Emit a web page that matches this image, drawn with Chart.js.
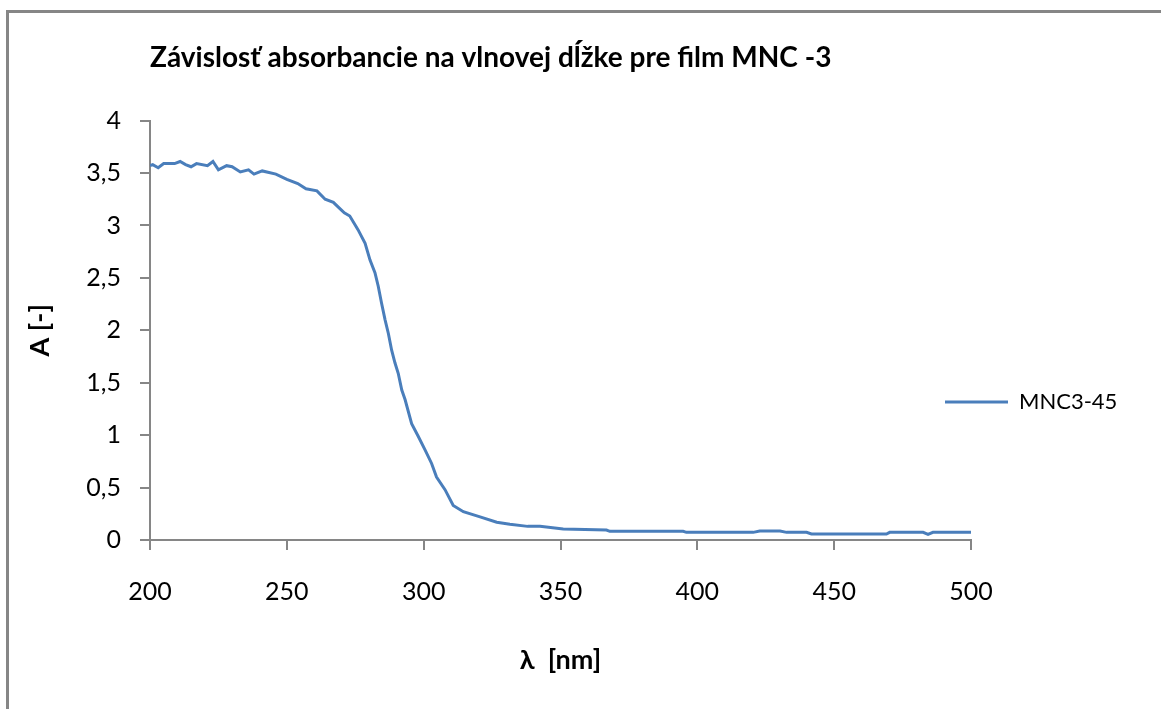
<!DOCTYPE html>
<html>
<head>
<meta charset="utf-8">
<script src="https://cdn.jsdelivr.net/npm/chart.js@4.4.1/dist/chart.umd.min.js"></script>
<style>
  html, body { margin: 0; padding: 0; background: #fff; overflow: hidden; }
  #frame { position: absolute; left: 6px; top: 10px; width: 1300px; height: 900px;
           border-left: 3px solid #868686; border-top: 3px solid #868686; }
  #absChart { position: absolute; left: 0; top: 0; }
</style>
</head>
<body>
<div id="frame"></div>
<canvas id="absChart" width="1161" height="709"></canvas>
<script>
// ---------- Data ----------
const chartTitle = 'Závislosť absorbancie na vlnovej dĺžke pre film MNC -3';
const seriesName = 'MNC3-45';
const xTitle = 'λ  [nm]';
const yTitle = 'A [-]';

const wavelengths = [
  200, 201, 203, 205, 209, 211, 213, 215, 217, 221, 223, 225, 228, 230, 233, 236, 238, 241,
  246, 250, 254, 257, 261, 264, 267, 269, 271, 273, 276, 278.6, 280.4, 282.2, 283.4, 284.6,
  285.9, 287.1, 288.3, 289.5, 290.7, 292, 293.2, 295.6, 298, 300.5, 302.9, 304.7, 307.8,
  310.8, 314.5, 320.6, 326.7, 331.5, 338, 342.5, 351, 366.8, 368, 394.8, 396, 420.4, 422.8,
  430.2, 432.6, 439.9, 441.7, 469.1, 470.3, 482.5, 484.3, 486.1, 500
];
const absorbance = [
  3.57, 3.58, 3.55, 3.59, 3.59, 3.61, 3.58, 3.56, 3.59, 3.57, 3.61, 3.53, 3.57, 3.56, 3.51, 3.53, 3.49, 3.52,
  3.49, 3.44, 3.40, 3.35, 3.33, 3.25, 3.22, 3.17, 3.12, 3.09, 2.96, 2.83, 2.67, 2.55, 2.42, 2.26,
  2.10, 1.97, 1.81, 1.69, 1.59, 1.43, 1.34, 1.11, 0.99, 0.86, 0.73, 0.60, 0.48,
  0.33, 0.27, 0.22, 0.17, 0.15, 0.13, 0.13, 0.105, 0.095, 0.083, 0.083, 0.073, 0.073, 0.086,
  0.086, 0.073, 0.073, 0.057, 0.057, 0.073, 0.073, 0.054, 0.073, 0.073
];

const xTicks = [200, 250, 300, 350, 400, 450, 500];
const yTicks = [0, 0.5, 1, 1.5, 2, 2.5, 3, 3.5, 4];

// ---------- Chart ----------
const FONT = 'Lato, "Open Sans", sans-serif';
const AXIS_GRAY = '#868686';

// Excel puts the legend partly over the plot's right edge, so move the box after layout
const legendPlace = {
  id: 'legendPlace',
  afterLayout(chart) {
    const lg = chart.legend;
    if (!lg) return;
    const w = lg.width;
    lg.left = 935; lg.right = 935 + w;
    lg.top = 305; lg.bottom = 499; lg.height = 194;
  }
};

const ctx = document.getElementById('absChart').getContext('2d');
const chart = new Chart(ctx, {
  type: 'line',
  data: {
    datasets: [{
      label: seriesName,
      data: wavelengths.map((w, i) => ({ x: w, y: absorbance[i] })),
      borderColor: '#4a7ebb',
      backgroundColor: '#4a7ebb',
      borderWidth: 3,
      pointRadius: 0,
      tension: 0,
      fill: false
    }]
  },
  options: {
    responsive: false,
    animation: false,
    layout: { padding: { left: 0, top: 0, right: 190, bottom: 0 } },
    scales: {
      x: {
        type: 'linear',
        min: 200,
        max: 500,
        afterBuildTicks: (s) => { s.ticks = xTicks.map(v => ({ value: v })); },
        afterFit: (s) => { s.height = 169; },
        grid: { drawOnChartArea: false, drawTicks: true, tickLength: 10, color: AXIS_GRAY, lineWidth: 2 },
        border: { color: AXIS_GRAY, width: 2 },
        ticks: { color: '#000', padding: 27, maxRotation: 0, font: { family: FONT, size: 25 } },
        title: {
          display: true, text: xTitle, color: '#000',
          font: { family: FONT, size: 27, weight: 'bold' },
          padding: { top: 0, bottom: 33 }
        }
      },
      y: {
        min: 0,
        max: 4,
        afterBuildTicks: (s) => { s.ticks = yTicks.map(v => ({ value: v })); },
        afterFit: (s) => { s.width = 150; },
        grid: { drawOnChartArea: false, drawTicks: true, tickLength: 10, color: AXIS_GRAY, lineWidth: 2 },
        border: { color: AXIS_GRAY, width: 2 },
        ticks: {
          color: '#000', padding: 19, font: { family: FONT, size: 25 },
          callback: (v) => String(v).replace('.', ',')
        },
        title: {
          display: true, text: yTitle, color: '#000',
          font: { family: FONT, size: 27, weight: 'bold' },
          padding: { top: 24, bottom: 0 }
        }
      }
    },
    plugins: {
      title: {
        display: true, text: chartTitle, color: '#000',
        align: 'start', fullSize: false,
        font: { family: FONT, size: 28, weight: 'bold' },
        padding: { top: 41, bottom: 46 }
      },
      legend: {
        display: true,
        position: 'chartArea',
        align: 'center',
        labels: {
          color: '#000',
          usePointStyle: true,
          pointStyle: 'line',
          pointStyleWidth: 63,
          padding: 10,
          font: { family: FONT, size: 22 }
        }
      },
      tooltip: { enabled: false }
    }
  },
  plugins: [legendPlace]
});
</script>
</body>
</html>
